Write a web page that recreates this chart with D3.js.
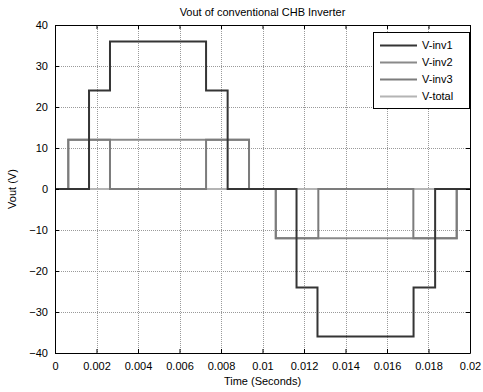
<!DOCTYPE html>
<html>
<head>
<meta charset="utf-8">
<script src="https://cdn.jsdelivr.net/npm/d3@7"></script>
<style>
  body { margin: 0; background: #fff; }
  svg { font-family: "Liberation Sans", Arial, sans-serif; }
</style>
</head>
<body>
<svg id="chart" width="483" height="392"></svg>
<script>
// values
var timeTicks = [0, 0.002, 0.004, 0.006, 0.008, 0.01, 0.012, 0.014, 0.016, 0.018, 0.02];
var voltTicks = [-40, -30, -20, -10, 0, 10, 20, 30, 40];

var inv1Time = [0, 0.00164, 0.00265, 0.00728, 0.00832, 0.01164, 0.01265, 0.01728, 0.01832, 0.02];
var inv1Volt = [0, 24, 36, 24, 0, -24, -36, -24, 0, 0];

var inv2Time = [0, 0.00064, 0.00935, 0.01064, 0.01936, 0.02];
var inv2Volt = [0, 12, 0, -12, 0, 0];

var inv3Time = [0, 0.00064, 0.00265, 0.00728, 0.00935, 0.01064, 0.01269, 0.01727, 0.01936, 0.02];
var inv3Volt = [0, 12, 0, 12, 0, -12, 0, -12, 0, 0];

var totalTime = [0, 0.02];
var totalVolt = [0, 0];

var seriesNames = ["V-inv1", "V-inv2", "V-inv3", "V-total"];
var seriesColors = ["#353535", "#8a8a8a", "#7c7c7c", "#b4b4b4"];

var series = [
    {name: seriesNames[3], color: seriesColors[3], t: totalTime, v: totalVolt},
    {name: seriesNames[1], color: seriesColors[1], t: inv2Time, v: inv2Volt},
    {name: seriesNames[2], color: seriesColors[2], t: inv3Time, v: inv3Volt},
    {name: seriesNames[0], color: seriesColors[0], t: inv1Time, v: inv1Volt}
];

var svg = d3.select("#chart");
var margin = {top: 25, right: 13, bottom: 39, left: 55};
var width = 483 - margin.left - margin.right;
var height = 392 - margin.top - margin.bottom;

var g = svg.append("g").attr("transform", "translate(" + margin.left + "," + margin.top + ")");

var x = d3.scaleLinear().domain([0, 0.02]).range([0, width]);
var y = d3.scaleLinear().domain([-40, 40]).range([height, 0]);

// dotted grid
g.append("g").selectAll("line").data(timeTicks.slice(1, -1)).enter().append("line")
    .attr("x1", function(d) { return Math.round(x(d)) + 0.5; })
    .attr("x2", function(d) { return Math.round(x(d)) + 0.5; })
    .attr("y1", 0).attr("y2", height)
    .attr("stroke", "#9a9a9a").attr("stroke-width", 1).attr("stroke-dasharray", "1,1");
g.append("g").selectAll("line").data(voltTicks.slice(1, -1)).enter().append("line")
    .attr("y1", function(d) { return Math.round(y(d)) + 0.5; })
    .attr("y2", function(d) { return Math.round(y(d)) + 0.5; })
    .attr("x1", 0).attr("x2", width)
    .attr("stroke", "#9a9a9a").attr("stroke-width", 1).attr("stroke-dasharray", "1,1");

// lines
var line = d3.line()
    .x(function(d) { return x(d[0]); })
    .y(function(d) { return y(d[1]); })
    .curve(d3.curveStepAfter);

series.forEach(function(s) {
    var pts = s.t.map(function(t, i) { return [t, s.v[i]]; });
    g.append("path")
        .attr("d", line(pts))
        .attr("fill", "none")
        .attr("stroke", s.color)
        .attr("stroke-width", 2);
});

// axes, ticks inward, box
var fmtX = function(d) { return d === 0 ? "0" : String(+d.toFixed(3)); };
var bottomAxis = g.append("g").attr("transform", "translate(0," + height + ")")
    .call(d3.axisBottom(x).tickValues(timeTicks).tickSizeInner(-4).tickSizeOuter(0).tickPadding(9).tickFormat(fmtX));
var leftAxis = g.append("g")
    .call(d3.axisLeft(y).tickValues(voltTicks).tickSizeInner(-4).tickSizeOuter(0).tickPadding(7));
var topAxis = g.append("g")
    .call(d3.axisTop(x).tickValues(timeTicks).tickSizeInner(-4).tickSizeOuter(0).tickFormat(""));
var rightAxis = g.append("g").attr("transform", "translate(" + width + ",0)")
    .call(d3.axisRight(y).tickValues(voltTicks).tickSizeInner(-4).tickSizeOuter(0).tickFormat(""));

[bottomAxis, leftAxis, topAxis, rightAxis].forEach(function(a) {
    a.selectAll("path, line").attr("stroke", "#000");
    a.selectAll("text").attr("fill", "#000").attr("font-size", 11)
        .attr("font-family", "Liberation Sans, Arial, sans-serif");
});

// title and labels
svg.append("text")
    .attr("x", margin.left + width / 2).attr("y", 16)
    .attr("text-anchor", "middle").attr("font-size", 11).attr("fill", "#000")
    .text("Vout of conventional CHB Inverter");

svg.append("text")
    .attr("x", margin.left + width / 2).attr("y", 385)
    .attr("text-anchor", "middle").attr("font-size", 11).attr("fill", "#000")
    .text("Time (Seconds)");

svg.append("text")
    .attr("transform", "translate(16," + (margin.top + height / 2) + ") rotate(-90)")
    .attr("text-anchor", "middle").attr("font-size", 11).attr("fill", "#000")
    .text("Vout (V)");

// legend
var legend = g.append("g").attr("transform", "translate(" + (373 - margin.left) + "," + (32 - margin.top) + ")");
legend.append("rect")
    .attr("x", 0.5).attr("y", 0.5).attr("width", 96).attr("height", 76)
    .attr("fill", "#fff").attr("stroke", "#000").attr("stroke-width", 1);

var items = legend.selectAll("g.item").data(seriesNames).enter().append("g")
    .attr("class", "item")
    .attr("transform", function(d, i) { return "translate(0," + (13.5 + i * 17) + ")"; });
items.append("line")
    .attr("x1", 7).attr("x2", 44).attr("y1", 0).attr("y2", 0)
    .attr("stroke", function(d, i) { return seriesColors[i]; })
    .attr("stroke-width", 2);
items.append("text")
    .attr("x", 49).attr("y", 0).attr("dy", "0.35em")
    .attr("font-size", 11).attr("fill", "#000")
    .text(function(d) { return d; });
</script>
</body>
</html>
